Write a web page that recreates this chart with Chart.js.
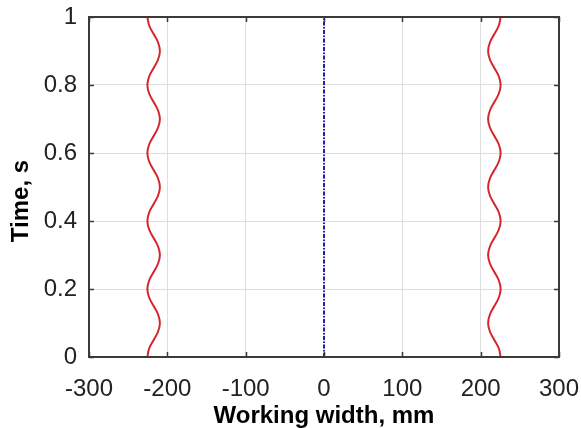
<!DOCTYPE html>
<html>
<head>
<meta charset="utf-8">
<script src="https://cdn.jsdelivr.net/npm/chart.js@4"></script>
<style>
html,body{margin:0;padding:0;background:#fff;}
#wrap{width:581px;height:428px;}
</style>
</head>
<body>
<div id="wrap"><canvas id="c" width="581" height="428"></canvas></div>
<script>
// Time samples (s)
const timeValues = [0,0.025,0.05,0.075,0.1,0.125,0.15,0.175,0.2,0.225,0.25,0.275,0.3,0.325,0.35,0.375,0.4,0.425,0.45,0.475,0.5,0.525,0.55,0.575,0.6,0.625,0.65,0.675,0.7,0.725,0.75,0.775,0.8,0.825,0.85,0.875,0.9,0.925,0.95,0.975,1];
// Left edge trajectory (mm)
const leftEdge = [-225.5,-223.2,-217.5,-211.8,-209.5,-211.8,-217.5,-223.2,-225.5,-223.2,-217.5,-211.8,-209.5,-211.8,-217.5,-223.2,-225.5,-223.2,-217.5,-211.8,-209.5,-211.8,-217.5,-223.2,-225.5,-223.2,-217.5,-211.8,-209.5,-211.8,-217.5,-223.2,-225.5,-223.2,-217.5,-211.8,-209.5,-211.8,-217.5,-223.2,-225.5];
// Right edge trajectory (mm)
const rightEdge = [225.5,223.2,217.5,211.8,209.5,211.8,217.5,223.2,225.5,223.2,217.5,211.8,209.5,211.8,217.5,223.2,225.5,223.2,217.5,211.8,209.5,211.8,217.5,223.2,225.5,223.2,217.5,211.8,209.5,211.8,217.5,223.2,225.5,223.2,217.5,211.8,209.5,211.8,217.5,223.2,225.5];
// Centre line
const centerX = [0, 0];
const centerT = [0, 1];
// Axis ticks
const xTicks = [-300,-200,-100,0,100,200,300];
const yTicks = [0,0.2,0.4,0.6,0.8,1];
const yTitle = 'Time, s';
const xTitle = 'Working width, mm';

const toPts = (xs, ys) => xs.map((x, i) => ({x: x, y: ys[i]}));
const fontFam = '"Liberation Sans", Arial, Helvetica, sans-serif';

const frame = {
  id: 'frame',
  afterDraw(chart) {
    const {ctx, chartArea: a, scales: {x, y}} = chart;
    ctx.save();
    ctx.strokeStyle = '#3a3a3a';
    ctx.lineWidth = 1.5;
    const L = 5;
    ctx.beginPath();
    xTicks.forEach(v => {
      const px = Math.round(x.getPixelForValue(v)) + 0.5;
      ctx.moveTo(px, a.bottom); ctx.lineTo(px, a.bottom - L);
      ctx.moveTo(px, a.top); ctx.lineTo(px, a.top + L);
    });
    yTicks.forEach(v => {
      const py = Math.round(y.getPixelForValue(v)) + 0.5;
      ctx.moveTo(a.left, py); ctx.lineTo(a.left + L, py);
      ctx.moveTo(a.right, py); ctx.lineTo(a.right - L, py);
    });
    ctx.stroke();
    ctx.lineWidth = 2;
    ctx.strokeRect(a.left, a.top, a.right - a.left, a.bottom - a.top);
    // y-axis title (placed slightly below the plot centre as in the reference)
    ctx.fillStyle = '#000';
    ctx.font = 'bold 24px ' + fontFam;
    ctx.textAlign = 'center';
    ctx.textBaseline = 'middle';
    ctx.translate(21, (a.top + a.bottom) / 2 + 14);
    ctx.rotate(-Math.PI / 2);
    ctx.fillText(yTitle, 0, 0);
    ctx.restore();
  }
};

new Chart(document.getElementById('c'), {
  type: 'scatter',
  data: {
    datasets: [
      {data: toPts(leftEdge, timeValues), showLine: true, borderColor: '#d6252b', borderWidth: 2, pointRadius: 0, tension: 0.4, fill: false},
      {data: toPts(rightEdge, timeValues), showLine: true, borderColor: '#d6252b', borderWidth: 2, pointRadius: 0, tension: 0.4, fill: false},
      {data: toPts(centerX, centerT), showLine: true, borderColor: '#1e1eaa', borderWidth: 2, borderDash: [4, 1.5, 1.5, 1.5], pointRadius: 0, fill: false}
    ]
  },
  options: {
    responsive: false,
    devicePixelRatio: 1,
    animation: false,
    layout: {padding: {left: 0, right: 22, top: 17, bottom: 0}},
    plugins: {legend: {display: false}, tooltip: {enabled: false}},
    scales: {
      x: {
        type: 'linear', min: -300, max: 300,
        afterBuildTicks: s => { s.ticks = xTicks.map(v => ({value: v})); },
        afterFit: s => { s.height = 71; s.paddingLeft = 0; s.paddingRight = 0; },
        ticks: {color: '#222', font: {family: fontFam, size: 24}, padding: 18, maxRotation: 0, autoSkip: false},
        grid: {color: '#dedede', lineWidth: 1, drawTicks: false},
        border: {display: false},
        title: {display: true, text: xTitle, color: '#000', font: {family: fontFam, size: 24, weight: 'bold'}, padding: {top: 0, bottom: -3}}
      },
      y: {
        type: 'linear', min: 0, max: 1,
        afterBuildTicks: s => { s.ticks = yTicks.map(v => ({value: v})); },
        afterFit: s => { s.width = 89; s.paddingTop = 0; s.paddingBottom = 0; },
        ticks: {color: '#222', font: {family: fontFam, size: 24}, padding: 12, autoSkip: false, callback: v => String(v)},
        grid: {color: '#dedede', lineWidth: 1, drawTicks: false},
        border: {display: false},
        title: {display: false}
      }
    }
  },
  plugins: [frame]
});
</script>
</body>
</html>
